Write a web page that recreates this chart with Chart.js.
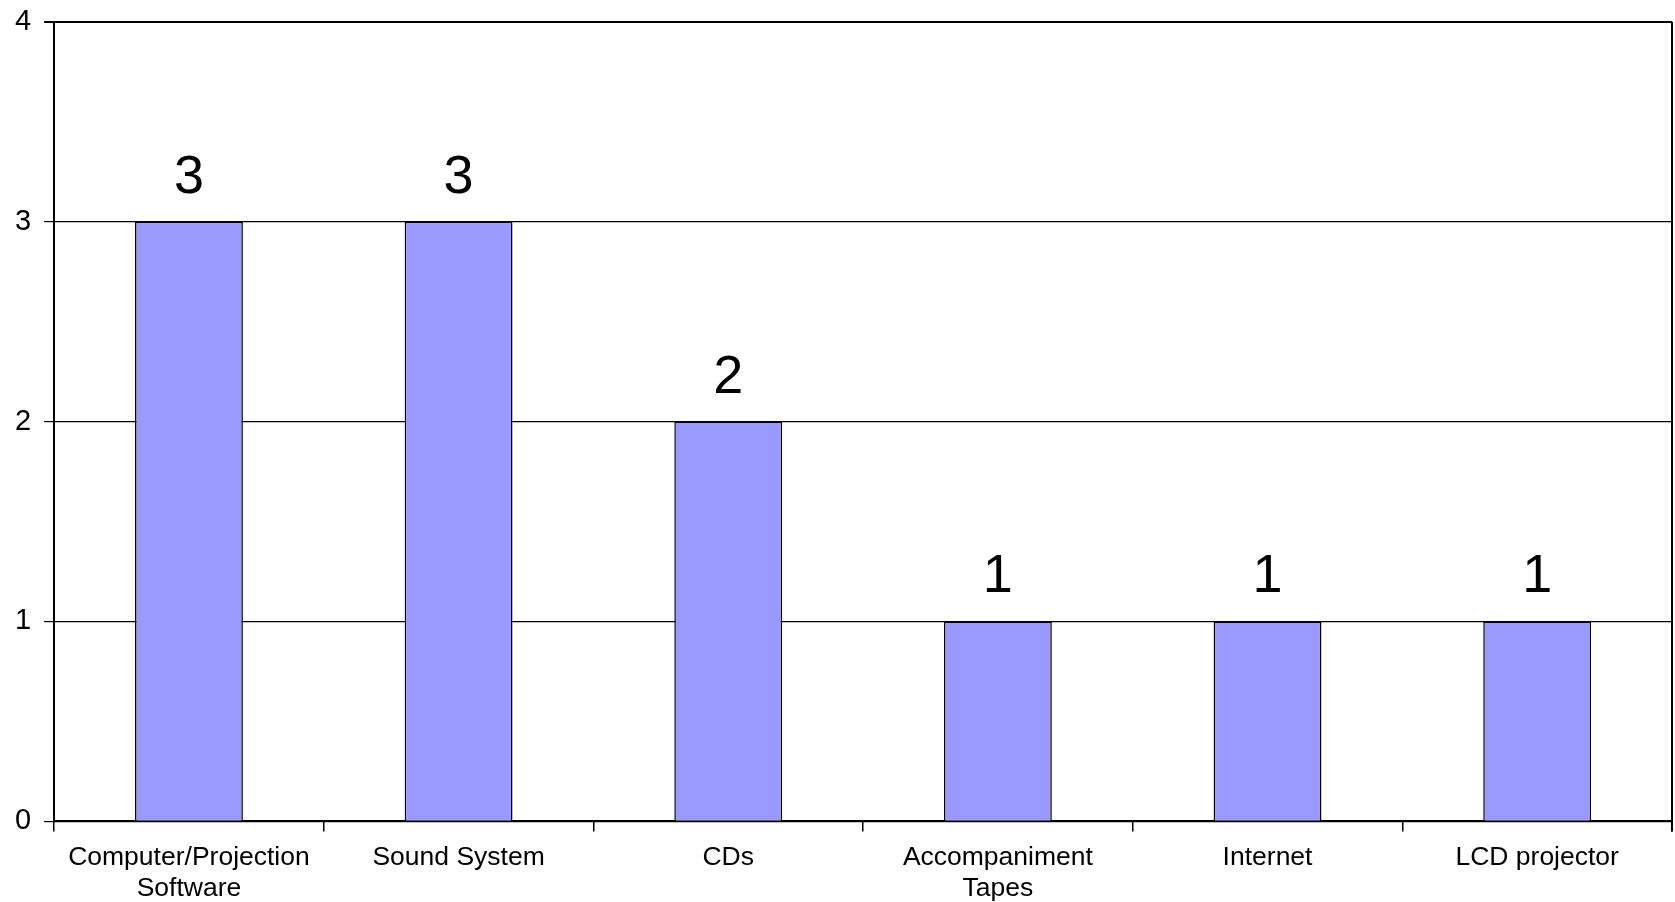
<!DOCTYPE html>
<html>
<head>
<meta charset="utf-8">
<script src="https://cdn.jsdelivr.net/npm/chart.js@4"></script>
<style>
  html, body { margin: 0; padding: 0; background: #fff; }
  #wrap { width: 1675px; height: 902px; position: relative; }
</style>
</head>
<body>
<div id="wrap"><canvas id="barChart"></canvas></div>
<script>
// Categories and counts
const categories = [
    ['Computer/Projection', 'Software'],
    'Sound System',
    'CDs',
    ['Accompaniment', 'Tapes'],
    'Internet',
    'LCD projector'
];
const counts = [3, 3, 2, 1, 1, 1];
const yMin = 0;
const yMax = 4;
const yStep = 1;

const FONT = "'Liberation Sans', Arial, sans-serif";

// Draws the count above each bar and the right edge of the plot frame
const valueLabels = {
    id: 'valueLabels',
    afterDatasetsDraw(chart) {
        const ctx = chart.ctx;
        const meta = chart.getDatasetMeta(0);
        ctx.save();
        ctx.fillStyle = '#000';
        ctx.font = '54px ' + FONT;
        ctx.textAlign = 'center';
        ctx.textBaseline = 'alphabetic';
        meta.data.forEach((bar, i) => {
            ctx.fillText(String(counts[i]), bar.x, bar.y - 29);
        });
        const a = chart.chartArea;
        ctx.strokeStyle = '#000';
        ctx.lineWidth = 2;
        ctx.beginPath();
        ctx.moveTo(a.right, a.top);
        ctx.lineTo(a.right, a.bottom + 10);
        ctx.stroke();
        ctx.restore();
    }
};

const ctx = document.getElementById('barChart').getContext('2d');
const chart = new Chart(ctx, {
    type: 'bar',
    data: {
        labels: categories,
        datasets: [{
            data: counts,
            backgroundColor: '#9999ff',
            borderColor: '#000',
            borderWidth: 1.5,
            categoryPercentage: 1.0,
            barPercentage: 0.4
        }]
    },
    options: {
        responsive: true,
        maintainAspectRatio: false,
        animation: false,
        layout: {
            padding: { top: 20, right: 3, left: 2, bottom: -13 }
        },
        plugins: {
            legend: { display: false },
            tooltip: { enabled: false }
        },
        scales: {
            x: {
                offset: true,
                grid: {
                    offset: true,
                    drawOnChartArea: false,
                    drawTicks: true,
                    tickLength: 10,
                    color: '#000',
                    lineWidth: 1.5
                },
                border: { color: '#000', width: 2 },
                ticks: {
                    color: '#000',
                    font: { family: FONT, size: 26.5, lineHeight: 1.2 },
                    maxRotation: 0,
                    autoSkip: false,
                    padding: 10
                }
            },
            y: {
                min: yMin,
                max: yMax,
                grid: {
                    color: '#000',
                    lineWidth: ctx => ctx.tick && ctx.tick.value === yMax ? 2 : 1.2,
                    tickLength: 10
                },
                border: { color: '#000', width: 2 },
                ticks: {
                    stepSize: yStep,
                    color: '#000',
                    font: { family: FONT, size: 29, lineHeight: 0.6 },
                    padding: 13
                }
            }
        }
    },
    plugins: [valueLabels]
});
</script>
</body>
</html>
